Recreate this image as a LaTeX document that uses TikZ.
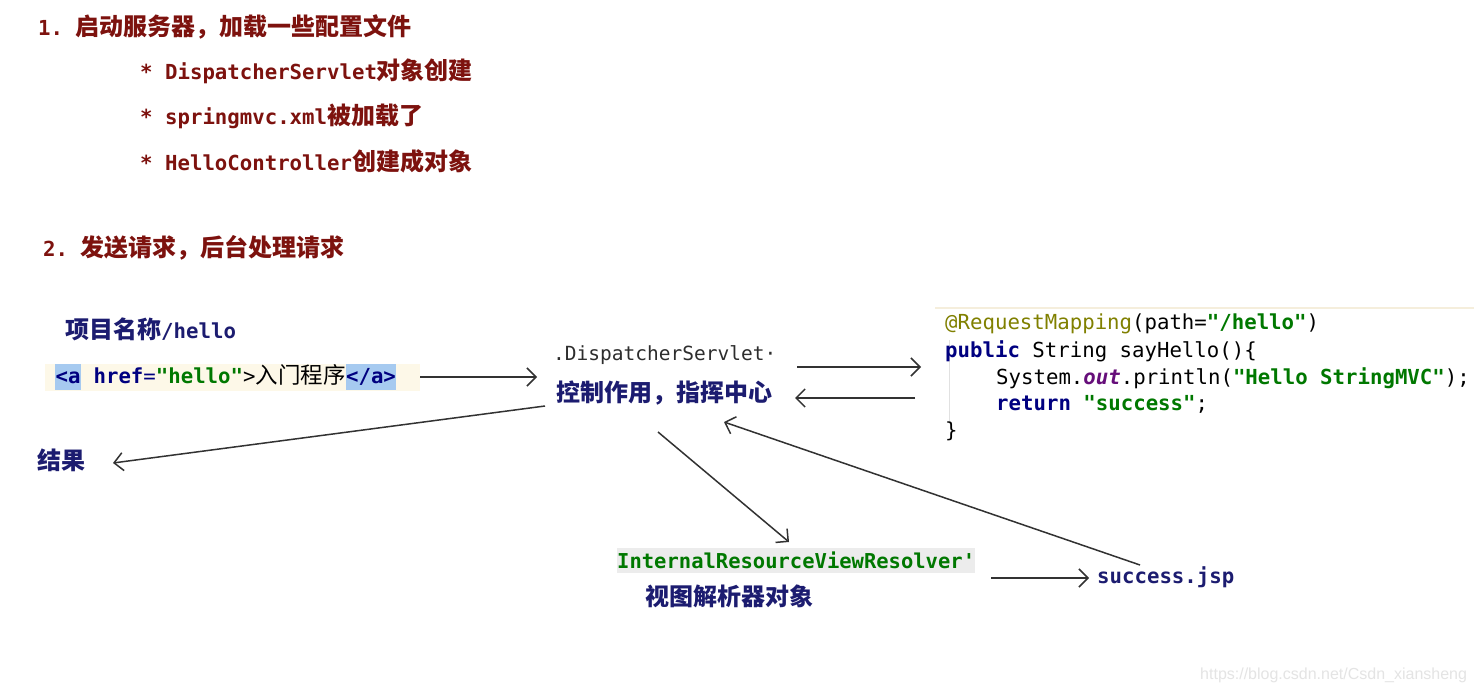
\documentclass[tikz,border=0pt]{standalone}
\usepackage{fontspec}
\setmainfont{DejaVu Sans}
\setmonofont{DejaVu Sans Mono}
\newfontfamily\cjkf{Noto Sans CJK SC}
\newfontfamily\wmfont{Liberation Sans}
\usetikzlibrary{arrows.meta,calc}
\definecolor{titlered}{RGB}{125,18,14}
\definecolor{navy}{RGB}{28,28,112}
\definecolor{codenavy}{RGB}{0,0,128}
\definecolor{codegreen}{RGB}{0,120,0}
\definecolor{annot}{RGB}{128,128,0}
\definecolor{codepurple}{RGB}{102,14,122}
\definecolor{hl}{RGB}{166,202,240}
\definecolor{linkbg}{RGB}{253,248,232}
\definecolor{ivrbg}{RGB}{236,236,236}
\definecolor{dsgray}{RGB}{45,45,45}
\definecolor{codetop}{RGB}{245,238,220}
\definecolor{guide}{RGB}{225,225,225}
\definecolor{wmgray}{RGB}{228,228,228}
\definecolor{arrgray}{RGB}{50,50,50}
\newcommand\mfs{\fontsize{20.7}{24}\selectfont}
\newcommand\cfs{\fontsize{24}{28}\selectfont}
\newcommand\hlbox[1]{{\setlength\fboxsep{0.5pt}\colorbox{hl}{\rule[-0.3em]{0pt}{1.2em}#1}}}
\tikzset{
  txt/.style={anchor=west,inner sep=0pt},
  arr/.style={draw=arrgray,line width=1.5pt,-{Straight Barb[length=9pt,width=18pt]}}
}
\begin{document}
\begin{tikzpicture}[x=1pt,y=-1pt]
\useasboundingbox (0,0) rectangle (1474,692);
\fill[white] (0,0) rectangle (1474,692);

% section 1
\node[txt,text=titlered] (h1) at (38,27) {{\mfs\ttfamily\bfseries 1. }{\cfs\cjkf\bfseries 启动服务器，加载一些配置文件}};
\node[txt,text=titlered] (b1) at (140,71) {{\mfs\ttfamily\bfseries * DispatcherServlet}{\cfs\cjkf\bfseries 对象创建}};
\node[txt,text=titlered] (b2) at (140,116) {{\mfs\ttfamily\bfseries * springmvc.xml}{\cfs\cjkf\bfseries 被加载了}};
\node[txt,text=titlered] (b3) at (140,161) {{\mfs\ttfamily\bfseries * HelloController}{\cfs\cjkf\bfseries 创建成对象}};

% section 2
\node[txt,text=titlered] (h2) at (43,248) {{\mfs\ttfamily\bfseries 2. }{\cfs\cjkf\bfseries 发送请求，后台处理请求}};
\node[txt,text=navy] (proj) at (65,329) {{\cfs\cjkf\bfseries 项目名称}{\mfs\ttfamily\bfseries /hello}};

\fill[linkbg] (45,364) rectangle (420,391);
\node[txt] (link) at (55,377) {\mfs\ttfamily\hlbox{\color{codenavy}\bfseries <a} {\color{codenavy}\bfseries href}{\color{codenavy}=}{\color{codegreen}\bfseries "hello"}>{\fontsize{22.5}{26}\selectfont\cjkf 入门程序}\hlbox{\color{codenavy}\bfseries </a>}};

\node[txt,text=dsgray] (ds) at (553,355) {\fontsize{19.5}{23}\selectfont\ttfamily .DispatcherServlet·};
\node[txt,text=navy] (ctl) at (556,393) {\cfs\cjkf\bfseries 控制作用，指挥中心};

% code block
\node[anchor=north west,inner sep=0pt,minimum width=539pt,minimum height=137pt,fill=white] (code) at (935,308) {};
\draw[codetop,line width=2pt] (code.north west) -- (code.north east);
\draw[guide,line width=1pt] (949,340) -- (949,424);
\node[txt] (c1) at (945,324) {\mfs\ttfamily{\color{annot}@RequestMapping}(path={\color{codegreen}\bfseries "/hello"})};
\node[txt] (c2) at (945,351) {\mfs\ttfamily{\color{codenavy}\bfseries public} String sayHello()\{};
\node[txt] (c3) at (996,378) {\mfs\ttfamily System.{\color{codepurple}\bfseries\itshape out}.println({\color{codegreen}\bfseries "Hello StringMVC"});};
\node[txt] (c4) at (996,404) {\mfs\ttfamily{\color{codenavy}\bfseries return} {\color{codegreen}\bfseries "success"};};
\node[txt] (c5) at (945,431) {\mfs\ttfamily\}};

\node[txt,text=navy] (res) at (37,460) {\cfs\cjkf\bfseries 结果};

\node[txt,fill=ivrbg,minimum height=25pt,text=codegreen] (ivr) at (617,560) {\fontsize{20.5}{24}\selectfont\ttfamily\bfseries InternalResourceViewResolver'};
\node[txt,text=navy] (view) at (645,596) {\cfs\cjkf\bfseries 视图解析器对象};
\node[txt,text=navy] (jsp) at (1097,577) {\mfs\ttfamily\bfseries success.jsp};

\node[txt,text=wmgray] (wm) at (1200,675) {\fontsize{16}{20}\selectfont\wmfont https://blog.csdn.net/Csdn\_xiansheng};

% connectors
\draw[arr] ($(link.west)+(365,0)$) -- ($(ds.west)+(-16,22)$);
\draw[arr] ($(ds.west)+(244,12)$) -- ($(code.north west)+(-14,59)$);
\draw[arr] ($(code.north west)+(-20,90)$) -- ($(ctl.west)+(239,5)$);
\draw[arr] ($(ctl.west)+(-11,13)$) -- ($(res.west)+(76,3)$);
\draw[arr] ($(ctl.west)+(102,39)$) -- ($(ivr.west)+(172,-18)$);
\draw[arr] ($(ivr.west)+(374,18)$) -- ($(jsp.west)+(-8,1)$);
\draw[arr] ($(jsp.west)+(43,-12)$) -- ($(ctl.west)+(168,29)$);
\end{tikzpicture}
\end{document}
